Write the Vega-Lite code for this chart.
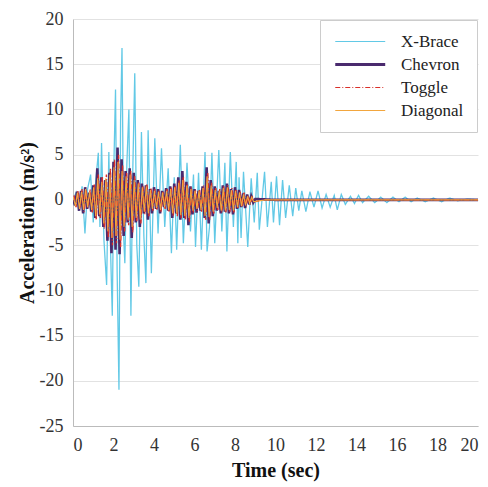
{
  "$schema": "https://vega.github.io/schema/vega-lite/v6.json",
  "width": 405,
  "height": 407,
  "autosize": {"type": "none"},
  "padding": {"left": 73, "top": 19, "right": 10, "bottom": 61},
  "background": "white",
  "config": {
    "view": {"stroke": null},
    "font": "Times New Roman",
    "style": {"guide-label": {"font": "Times New Roman"}, "guide-title": {"font": "Times New Roman"}},
    "axis": {"labelFont": "Times New Roman", "titleFont": "Times New Roman", "labelFontSize": 18, "titleFontSize": 20, "titleFontWeight": "bold", "labelColor": "#333", "titleColor": "#111", "domainColor": "#bbb", "gridColor": "#e2e2e2", "ticks": false}
  },
  "data": {"values": [
    {"s":"X-Brace","t":0,"a":0},{"s":"X-Brace","t":0.15,"a":0.8},{"s":"X-Brace","t":0.3,"a":-1.2},{"s":"X-Brace","t":0.45,"a":1.5},{"s":"X-Brace","t":0.59,"a":-3.7},{"s":"X-Brace","t":0.72,"a":1.2},{"s":"X-Brace","t":0.87,"a":2.8},{"s":"X-Brace","t":1.0,"a":-2.5},{"s":"X-Brace","t":1.12,"a":2.0},{"s":"X-Brace","t":1.25,"a":5.2},{"s":"X-Brace","t":1.33,"a":-3.0},{"s":"X-Brace","t":1.41,"a":6.3},{"s":"X-Brace","t":1.53,"a":-4.5},{"s":"X-Brace","t":1.66,"a":-9.4},{"s":"X-Brace","t":1.77,"a":5.3},{"s":"X-Brace","t":1.86,"a":-6},{"s":"X-Brace","t":1.94,"a":-12.8},{"s":"X-Brace","t":2.02,"a":4},{"s":"X-Brace","t":2.1,"a":12.2},{"s":"X-Brace","t":2.18,"a":-8},{"s":"X-Brace","t":2.27,"a":-21},{"s":"X-Brace","t":2.35,"a":8.8},{"s":"X-Brace","t":2.42,"a":16.8},{"s":"X-Brace","t":2.5,"a":-4},{"s":"X-Brace","t":2.56,"a":-7},{"s":"X-Brace","t":2.66,"a":4},{"s":"X-Brace","t":2.76,"a":10.0},{"s":"X-Brace","t":2.86,"a":-12.8},{"s":"X-Brace","t":2.95,"a":3},{"s":"X-Brace","t":3.05,"a":14.0},{"s":"X-Brace","t":3.15,"a":-5},{"s":"X-Brace","t":3.25,"a":-9.6},{"s":"X-Brace","t":3.38,"a":7.5},{"s":"X-Brace","t":3.5,"a":-4},{"s":"X-Brace","t":3.6,"a":-9.2},{"s":"X-Brace","t":3.71,"a":7.7},{"s":"X-Brace","t":3.87,"a":-8.1},{"s":"X-Brace","t":4.04,"a":6.8},{"s":"X-Brace","t":4.2,"a":-3.7},{"s":"X-Brace","t":4.37,"a":5.7},{"s":"X-Brace","t":4.53,"a":-3.0},{"s":"X-Brace","t":4.7,"a":3.5},{"s":"X-Brace","t":4.86,"a":-5.9},{"s":"X-Brace","t":5.0,"a":2.5},{"s":"X-Brace","t":5.12,"a":-5.5},{"s":"X-Brace","t":5.3,"a":6.1},{"s":"X-Brace","t":5.45,"a":-4.8},{"s":"X-Brace","t":5.63,"a":4.1},{"s":"X-Brace","t":5.8,"a":-3.5},{"s":"X-Brace","t":5.95,"a":2.8},{"s":"X-Brace","t":6.05,"a":-5.2},{"s":"X-Brace","t":6.2,"a":3.0},{"s":"X-Brace","t":6.34,"a":-5.5},{"s":"X-Brace","t":6.52,"a":5.3},{"s":"X-Brace","t":6.62,"a":-5.7},{"s":"X-Brace","t":6.74,"a":-3},{"s":"X-Brace","t":6.86,"a":5.2},{"s":"X-Brace","t":7.0,"a":-4.8},{"s":"X-Brace","t":7.2,"a":5.5},{"s":"X-Brace","t":7.35,"a":-3.5},{"s":"X-Brace","t":7.5,"a":4.1},{"s":"X-Brace","t":7.6,"a":-5.7},{"s":"X-Brace","t":7.77,"a":5.3},{"s":"X-Brace","t":7.92,"a":-3.0},{"s":"X-Brace","t":8.06,"a":4.2},{"s":"X-Brace","t":8.14,"a":-4.8},{"s":"X-Brace","t":8.2,"a":2.5},{"s":"X-Brace","t":8.3,"a":-4.2},{"s":"X-Brace","t":8.42,"a":3.1},{"s":"X-Brace","t":8.63,"a":-5.2},{"s":"X-Brace","t":8.8,"a":2.4},{"s":"X-Brace","t":8.95,"a":-2.5},{"s":"X-Brace","t":9.1,"a":3.0},{"s":"X-Brace","t":9.2,"a":-3.3},{"s":"X-Brace","t":9.46,"a":3.1},{"s":"X-Brace","t":9.6,"a":-3.0},{"s":"X-Brace","t":9.79,"a":2.0},{"s":"X-Brace","t":9.9,"a":-2.5},{"s":"X-Brace","t":10.05,"a":2.6},{"s":"X-Brace","t":10.2,"a":-2.8},{"s":"X-Brace","t":10.35,"a":2.2},{"s":"X-Brace","t":10.5,"a":-2.0},{"s":"X-Brace","t":10.68,"a":1.6},{"s":"X-Brace","t":10.85,"a":-1.8},{"s":"X-Brace","t":11.0,"a":1.3},{"s":"X-Brace","t":11.15,"a":-1.2},{"s":"X-Brace","t":11.3,"a":1.0},{"s":"X-Brace","t":11.5,"a":-1.3},{"s":"X-Brace","t":11.7,"a":0.9},{"s":"X-Brace","t":11.9,"a":-0.8},{"s":"X-Brace","t":12.1,"a":1.0},{"s":"X-Brace","t":12.3,"a":-0.9},{"s":"X-Brace","t":12.5,"a":0.6},{"s":"X-Brace","t":12.7,"a":-0.8},{"s":"X-Brace","t":12.9,"a":0.5},{"s":"X-Brace","t":13.05,"a":-1.1},{"s":"X-Brace","t":13.25,"a":0.6},{"s":"X-Brace","t":13.45,"a":-0.5},{"s":"X-Brace","t":13.7,"a":0.4},{"s":"X-Brace","t":13.9,"a":-0.4},{"s":"X-Brace","t":14.1,"a":0.5},{"s":"X-Brace","t":14.3,"a":-0.3},{"s":"X-Brace","t":14.6,"a":0.4},{"s":"X-Brace","t":14.9,"a":-0.3},{"s":"X-Brace","t":15.2,"a":0.3},{"s":"X-Brace","t":15.5,"a":-0.3},{"s":"X-Brace","t":15.8,"a":0.3},{"s":"X-Brace","t":16.1,"a":-0.2},{"s":"X-Brace","t":16.4,"a":0.3},{"s":"X-Brace","t":16.7,"a":-0.2},{"s":"X-Brace","t":17.0,"a":0.2},{"s":"X-Brace","t":17.4,"a":-0.2},{"s":"X-Brace","t":17.8,"a":0.2},{"s":"X-Brace","t":18.2,"a":-0.2},{"s":"X-Brace","t":18.6,"a":0.2},{"s":"X-Brace","t":19.0,"a":-0.1},{"s":"X-Brace","t":19.5,"a":0.1},{"s":"X-Brace","t":20,"a":0},
    {"s":"Chevron","t":0.0,"a":0},{"s":"Chevron","t":0.1,"a":-0.6},{"s":"Chevron","t":0.2,"a":0.9},{"s":"Chevron","t":0.3,"a":-1.2},{"s":"Chevron","t":0.4,"a":1.0},{"s":"Chevron","t":0.5,"a":-1.5},{"s":"Chevron","t":0.6,"a":1.4},{"s":"Chevron","t":0.7,"a":-1.0},{"s":"Chevron","t":0.8,"a":0.8},{"s":"Chevron","t":0.9,"a":-1.3},{"s":"Chevron","t":1.0,"a":1.6},{"s":"Chevron","t":1.1,"a":-2.0},{"s":"Chevron","t":1.2,"a":3.5},{"s":"Chevron","t":1.3,"a":-1.8},{"s":"Chevron","t":1.4,"a":2.5},{"s":"Chevron","t":1.5,"a":-3.0},{"s":"Chevron","t":1.6,"a":2.2},{"s":"Chevron","t":1.7,"a":-4.5},{"s":"Chevron","t":1.8,"a":3.0},{"s":"Chevron","t":1.9,"a":-5.9},{"s":"Chevron","t":2.0,"a":4.2},{"s":"Chevron","t":2.1,"a":-5.5},{"s":"Chevron","t":2.2,"a":5.8},{"s":"Chevron","t":2.3,"a":-6.0},{"s":"Chevron","t":2.4,"a":4.5},{"s":"Chevron","t":2.5,"a":-4.0},{"s":"Chevron","t":2.6,"a":3.2},{"s":"Chevron","t":2.7,"a":-2.5},{"s":"Chevron","t":2.8,"a":3.5},{"s":"Chevron","t":2.9,"a":-4.2},{"s":"Chevron","t":3.0,"a":3.0},{"s":"Chevron","t":3.1,"a":-2.5},{"s":"Chevron","t":3.2,"a":2.2},{"s":"Chevron","t":3.3,"a":-3.0},{"s":"Chevron","t":3.4,"a":1.8},{"s":"Chevron","t":3.5,"a":-1.5},{"s":"Chevron","t":3.6,"a":1.6},{"s":"Chevron","t":3.7,"a":-2.2},{"s":"Chevron","t":3.8,"a":1.2},{"s":"Chevron","t":3.9,"a":-1.5},{"s":"Chevron","t":4.0,"a":1.4},{"s":"Chevron","t":4.1,"a":-1.0},{"s":"Chevron","t":4.2,"a":1.2},{"s":"Chevron","t":4.3,"a":-1.5},{"s":"Chevron","t":4.4,"a":1.0},{"s":"Chevron","t":4.5,"a":-0.8},{"s":"Chevron","t":4.6,"a":1.3},{"s":"Chevron","t":4.7,"a":-1.2},{"s":"Chevron","t":4.8,"a":1.5},{"s":"Chevron","t":4.9,"a":-2.0},{"s":"Chevron","t":5.0,"a":1.8},{"s":"Chevron","t":5.1,"a":-1.5},{"s":"Chevron","t":5.2,"a":2.5},{"s":"Chevron","t":5.3,"a":-2.2},{"s":"Chevron","t":5.4,"a":3.2},{"s":"Chevron","t":5.5,"a":-2.0},{"s":"Chevron","t":5.6,"a":2.0},{"s":"Chevron","t":5.7,"a":-2.8},{"s":"Chevron","t":5.8,"a":1.5},{"s":"Chevron","t":5.9,"a":-1.6},{"s":"Chevron","t":6.0,"a":1.2},{"s":"Chevron","t":6.1,"a":-1.4},{"s":"Chevron","t":6.2,"a":1.0},{"s":"Chevron","t":6.3,"a":-1.2},{"s":"Chevron","t":6.4,"a":1.5},{"s":"Chevron","t":6.5,"a":-2.0},{"s":"Chevron","t":6.6,"a":3.6},{"s":"Chevron","t":6.7,"a":-2.6},{"s":"Chevron","t":6.8,"a":2.2},{"s":"Chevron","t":6.9,"a":-1.8},{"s":"Chevron","t":7.0,"a":1.5},{"s":"Chevron","t":7.1,"a":-1.2},{"s":"Chevron","t":7.2,"a":1.0},{"s":"Chevron","t":7.3,"a":-1.5},{"s":"Chevron","t":7.4,"a":1.6},{"s":"Chevron","t":7.5,"a":-1.3},{"s":"Chevron","t":7.6,"a":1.8},{"s":"Chevron","t":7.7,"a":-1.5},{"s":"Chevron","t":7.8,"a":1.2},{"s":"Chevron","t":7.9,"a":-1.6},{"s":"Chevron","t":8.0,"a":1.4},{"s":"Chevron","t":8.1,"a":-1.0},{"s":"Chevron","t":8.2,"a":1.1},{"s":"Chevron","t":8.3,"a":-0.8},{"s":"Chevron","t":8.4,"a":0.7},{"s":"Chevron","t":8.5,"a":-0.9},{"s":"Chevron","t":8.6,"a":0.6},{"s":"Chevron","t":8.7,"a":-0.5},{"s":"Chevron","t":8.8,"a":0.4},{"s":"Chevron","t":8.9,"a":-0.3},{"s":"Chevron","t":9.0,"a":0.1},{"s":"Chevron","t":10,"a":0},{"s":"Chevron","t":20,"a":0},
    {"s":"Toggle","t":0.05,"a":0.5},{"s":"Toggle","t":0.15,"a":-0.8},{"s":"Toggle","t":0.25,"a":1.0},{"s":"Toggle","t":0.35,"a":-0.9},{"s":"Toggle","t":0.45,"a":1.2},{"s":"Toggle","t":0.55,"a":-1.3},{"s":"Toggle","t":0.65,"a":1.1},{"s":"Toggle","t":0.75,"a":-0.9},{"s":"Toggle","t":0.85,"a":1.2},{"s":"Toggle","t":0.95,"a":-1.4},{"s":"Toggle","t":1.05,"a":1.8},{"s":"Toggle","t":1.15,"a":-2.2},{"s":"Toggle","t":1.25,"a":2.8},{"s":"Toggle","t":1.35,"a":-2.0},{"s":"Toggle","t":1.45,"a":2.6},{"s":"Toggle","t":1.55,"a":-3.2},{"s":"Toggle","t":1.65,"a":2.8},{"s":"Toggle","t":1.75,"a":-4.2},{"s":"Toggle","t":1.85,"a":3.5},{"s":"Toggle","t":1.95,"a":-5.0},{"s":"Toggle","t":2.05,"a":4.5},{"s":"Toggle","t":2.15,"a":-4.8},{"s":"Toggle","t":2.25,"a":5.0},{"s":"Toggle","t":2.35,"a":-5.2},{"s":"Toggle","t":2.45,"a":3.8},{"s":"Toggle","t":2.55,"a":-3.5},{"s":"Toggle","t":2.65,"a":3.0},{"s":"Toggle","t":2.75,"a":-2.8},{"s":"Toggle","t":2.85,"a":3.2},{"s":"Toggle","t":2.95,"a":-3.6},{"s":"Toggle","t":3.05,"a":2.6},{"s":"Toggle","t":3.15,"a":-2.4},{"s":"Toggle","t":3.25,"a":2.0},{"s":"Toggle","t":3.35,"a":-2.6},{"s":"Toggle","t":3.45,"a":1.6},{"s":"Toggle","t":3.55,"a":-1.6},{"s":"Toggle","t":3.65,"a":1.8},{"s":"Toggle","t":3.75,"a":-1.8},{"s":"Toggle","t":3.85,"a":1.3},{"s":"Toggle","t":3.95,"a":-1.2},{"s":"Toggle","t":4.05,"a":1.2},{"s":"Toggle","t":4.15,"a":-1.1},{"s":"Toggle","t":4.25,"a":1.0},{"s":"Toggle","t":4.35,"a":-1.3},{"s":"Toggle","t":4.45,"a":0.9},{"s":"Toggle","t":4.55,"a":-1.0},{"s":"Toggle","t":4.65,"a":1.2},{"s":"Toggle","t":4.75,"a":-1.3},{"s":"Toggle","t":4.85,"a":1.4},{"s":"Toggle","t":4.95,"a":-1.8},{"s":"Toggle","t":5.05,"a":1.6},{"s":"Toggle","t":5.15,"a":-1.8},{"s":"Toggle","t":5.25,"a":2.2},{"s":"Toggle","t":5.35,"a":-2.0},{"s":"Toggle","t":5.45,"a":2.6},{"s":"Toggle","t":5.55,"a":-2.2},{"s":"Toggle","t":5.65,"a":1.8},{"s":"Toggle","t":5.75,"a":-2.4},{"s":"Toggle","t":5.85,"a":1.4},{"s":"Toggle","t":5.95,"a":-1.4},{"s":"Toggle","t":6.05,"a":1.1},{"s":"Toggle","t":6.15,"a":-1.2},{"s":"Toggle","t":6.25,"a":1.2},{"s":"Toggle","t":6.35,"a":-1.3},{"s":"Toggle","t":6.45,"a":1.6},{"s":"Toggle","t":6.55,"a":-2.2},{"s":"Toggle","t":6.65,"a":3.0},{"s":"Toggle","t":6.75,"a":-2.2},{"s":"Toggle","t":6.85,"a":1.9},{"s":"Toggle","t":6.95,"a":-1.6},{"s":"Toggle","t":7.05,"a":1.3},{"s":"Toggle","t":7.15,"a":-1.1},{"s":"Toggle","t":7.25,"a":1.2},{"s":"Toggle","t":7.35,"a":-1.4},{"s":"Toggle","t":7.45,"a":1.5},{"s":"Toggle","t":7.55,"a":-1.4},{"s":"Toggle","t":7.65,"a":1.6},{"s":"Toggle","t":7.75,"a":-1.3},{"s":"Toggle","t":7.85,"a":1.3},{"s":"Toggle","t":7.95,"a":-1.4},{"s":"Toggle","t":8.05,"a":1.2},{"s":"Toggle","t":8.15,"a":-1.0},{"s":"Toggle","t":8.25,"a":0.9},{"s":"Toggle","t":8.35,"a":-0.8},{"s":"Toggle","t":8.45,"a":0.8},{"s":"Toggle","t":8.55,"a":-0.7},{"s":"Toggle","t":8.65,"a":0.5},{"s":"Toggle","t":8.75,"a":-0.5},{"s":"Toggle","t":8.85,"a":0.3},{"s":"Toggle","t":8.95,"a":-0.2},{"s":"Toggle","t":9.5,"a":0},{"s":"Toggle","t":20,"a":0},
    {"s":"Diagonal","t":0.02,"a":0.3},{"s":"Diagonal","t":0.12,"a":-0.7},{"s":"Diagonal","t":0.22,"a":0.8},{"s":"Diagonal","t":0.32,"a":-1.0},{"s":"Diagonal","t":0.42,"a":0.9},{"s":"Diagonal","t":0.52,"a":-1.1},{"s":"Diagonal","t":0.62,"a":1.2},{"s":"Diagonal","t":0.72,"a":-0.8},{"s":"Diagonal","t":0.82,"a":0.9},{"s":"Diagonal","t":0.92,"a":-1.1},{"s":"Diagonal","t":1.02,"a":1.4},{"s":"Diagonal","t":1.12,"a":-1.8},{"s":"Diagonal","t":1.22,"a":2.4},{"s":"Diagonal","t":1.32,"a":-1.6},{"s":"Diagonal","t":1.42,"a":2.0},{"s":"Diagonal","t":1.52,"a":-2.6},{"s":"Diagonal","t":1.62,"a":2.4},{"s":"Diagonal","t":1.72,"a":-3.5},{"s":"Diagonal","t":1.82,"a":2.8},{"s":"Diagonal","t":1.92,"a":-4.2},{"s":"Diagonal","t":2.02,"a":3.6},{"s":"Diagonal","t":2.12,"a":-4.0},{"s":"Diagonal","t":2.22,"a":4.2},{"s":"Diagonal","t":2.32,"a":-4.4},{"s":"Diagonal","t":2.42,"a":3.2},{"s":"Diagonal","t":2.52,"a":-3.0},{"s":"Diagonal","t":2.62,"a":2.6},{"s":"Diagonal","t":2.72,"a":-2.2},{"s":"Diagonal","t":2.82,"a":2.8},{"s":"Diagonal","t":2.92,"a":-3.0},{"s":"Diagonal","t":3.02,"a":2.2},{"s":"Diagonal","t":3.12,"a":-2.0},{"s":"Diagonal","t":3.22,"a":1.8},{"s":"Diagonal","t":3.32,"a":-2.2},{"s":"Diagonal","t":3.42,"a":1.4},{"s":"Diagonal","t":3.52,"a":-1.3},{"s":"Diagonal","t":3.62,"a":1.5},{"s":"Diagonal","t":3.72,"a":-1.5},{"s":"Diagonal","t":3.82,"a":1.1},{"s":"Diagonal","t":3.92,"a":-1.0},{"s":"Diagonal","t":4.02,"a":1.0},{"s":"Diagonal","t":4.12,"a":-0.9},{"s":"Diagonal","t":4.22,"a":0.9},{"s":"Diagonal","t":4.32,"a":-1.1},{"s":"Diagonal","t":4.42,"a":0.8},{"s":"Diagonal","t":4.52,"a":-0.8},{"s":"Diagonal","t":4.62,"a":1.0},{"s":"Diagonal","t":4.72,"a":-1.1},{"s":"Diagonal","t":4.82,"a":1.2},{"s":"Diagonal","t":4.92,"a":-1.5},{"s":"Diagonal","t":5.02,"a":1.4},{"s":"Diagonal","t":5.12,"a":-1.5},{"s":"Diagonal","t":5.22,"a":1.9},{"s":"Diagonal","t":5.32,"a":-1.7},{"s":"Diagonal","t":5.42,"a":2.2},{"s":"Diagonal","t":5.52,"a":-1.8},{"s":"Diagonal","t":5.62,"a":1.6},{"s":"Diagonal","t":5.72,"a":-2.0},{"s":"Diagonal","t":5.82,"a":1.2},{"s":"Diagonal","t":5.92,"a":-1.2},{"s":"Diagonal","t":6.02,"a":1.0},{"s":"Diagonal","t":6.12,"a":-1.0},{"s":"Diagonal","t":6.22,"a":1.0},{"s":"Diagonal","t":6.32,"a":-1.1},{"s":"Diagonal","t":6.42,"a":1.3},{"s":"Diagonal","t":6.52,"a":-1.8},{"s":"Diagonal","t":6.62,"a":2.6},{"s":"Diagonal","t":6.72,"a":-1.9},{"s":"Diagonal","t":6.82,"a":1.6},{"s":"Diagonal","t":6.92,"a":-1.3},{"s":"Diagonal","t":7.02,"a":1.1},{"s":"Diagonal","t":7.12,"a":-0.9},{"s":"Diagonal","t":7.22,"a":1.0},{"s":"Diagonal","t":7.32,"a":-1.2},{"s":"Diagonal","t":7.42,"a":1.3},{"s":"Diagonal","t":7.52,"a":-1.2},{"s":"Diagonal","t":7.62,"a":1.4},{"s":"Diagonal","t":7.72,"a":-1.1},{"s":"Diagonal","t":7.82,"a":1.1},{"s":"Diagonal","t":7.92,"a":-1.2},{"s":"Diagonal","t":8.02,"a":1.0},{"s":"Diagonal","t":8.12,"a":-0.8},{"s":"Diagonal","t":8.22,"a":0.8},{"s":"Diagonal","t":8.32,"a":-0.7},{"s":"Diagonal","t":8.42,"a":0.6},{"s":"Diagonal","t":8.52,"a":-0.6},{"s":"Diagonal","t":8.62,"a":0.4},{"s":"Diagonal","t":8.72,"a":-0.4},{"s":"Diagonal","t":8.82,"a":0.3},{"s":"Diagonal","t":8.92,"a":-0.2},{"s":"Diagonal","t":9.5,"a":0},{"s":"Diagonal","t":20,"a":0}
  ]},
  "encoding": {
    "x": {"field": "t", "type": "quantitative", "scale": {"domain": [0, 20], "nice": false}, "axis": {"values": [0,2,4,6,8,10,12,14,16,18,20], "grid": false, "title": "Time (sec)", "labelFont": "Times New Roman", "titleFont": "Times New Roman", "labelPadding": 10, "titlePadding": 6}},
    "y": {"field": "a", "type": "quantitative", "scale": {"domain": [-25, 20], "nice": false}, "axis": {"values": [-25,-20,-15,-10,-5,0,5,10,15,20], "grid": true, "title": "Acceleration (m/s²)", "labelFont": "Times New Roman", "titleFont": "Times New Roman", "labelExpr": "datum.value < 0 ? '-' + abs(datum.value) : '' + datum.value", "labelPadding": 10, "titlePadding": 2}},
    "color": {"field": "s", "type": "nominal", "scale": {"domain": ["X-Brace","Chevron","Toggle","Diagonal"], "range": ["#62c9e6","#4a2a6e","#d9302a","#f2a63e"]}, "legend": {"title": null, "orient": "top-right", "offset": 1, "symbolType": "M-1,0H7", "symbolSize": 156, "symbolStrokeWidth": 1.2, "labelFont": "Times New Roman", "labelFontSize": 17, "labelColor": "#222", "strokeColor": "#cccccc", "fillColor": "white", "padding": 13, "rowPadding": 5, "labelOffset": 51, "encode": {"symbols": {"update": {"strokeWidth": {"signal": "datum.value === 'Chevron' ? 3 : 1.2"}}}}}},
    "strokeDash": {"field": "s", "type": "nominal", "scale": {"domain": ["X-Brace","Chevron","Toggle","Diagonal"], "range": [[1,0],[1,0],[5,2,1,2],[1,0]]}, "legend": {"title": null}}
  },
  "layer": [
    {"transform": [{"filter": "datum.s == 'X-Brace'"}], "mark": {"type": "line", "clip": true, "strokeWidth": 1.3}},
    {"transform": [{"filter": "datum.s == 'Chevron'"}], "mark": {"type": "line", "clip": true, "strokeWidth": 2.6}},
    {"transform": [{"filter": "datum.s == 'Toggle'"}], "mark": {"type": "line", "clip": true, "strokeWidth": 1.4}},
    {"transform": [{"filter": "datum.s == 'Diagonal'"}], "mark": {"type": "line", "clip": true, "strokeWidth": 1.1}}
  ]
}
